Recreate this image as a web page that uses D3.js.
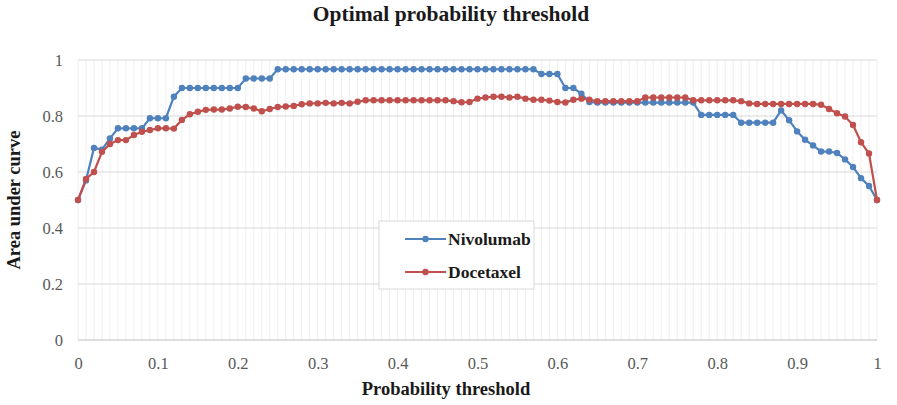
<!DOCTYPE html>
<html>
<head>
<meta charset="utf-8">
<script src="https://cdn.jsdelivr.net/npm/d3@7"></script>
<style>
  body { margin: 0; background: #fff; }
</style>
</head>
<body>
<div class="chart"></div>
<script>
// thresholds 0.00 .. 1.00 in steps of 0.01
let thresholds = d3.range(0, 101).map(function(i) { return i / 100; });

let nivolumab = [
  0.50, 0.57, 0.686, 0.68, 0.72, 0.756, 0.756, 0.756, 0.756, 0.792,
  0.792, 0.792, 0.869, 0.90, 0.90, 0.90, 0.90, 0.90, 0.90, 0.90,
  0.90, 0.934, 0.934, 0.934, 0.934, 0.967, 0.967, 0.967, 0.967, 0.967,
  0.967, 0.967, 0.967, 0.967, 0.967, 0.967, 0.967, 0.967, 0.967, 0.967,
  0.967, 0.967, 0.967, 0.967, 0.967, 0.967, 0.967, 0.967, 0.967, 0.967,
  0.967, 0.967, 0.967, 0.967, 0.967, 0.967, 0.967, 0.967, 0.95, 0.95,
  0.95, 0.90, 0.90, 0.88, 0.85, 0.848, 0.848, 0.848, 0.848, 0.848,
  0.848, 0.848, 0.848, 0.848, 0.848, 0.848, 0.848, 0.848, 0.804, 0.804,
  0.804, 0.804, 0.804, 0.776, 0.776, 0.776, 0.776, 0.776, 0.82, 0.785,
  0.745, 0.715, 0.695, 0.673, 0.673, 0.668, 0.645, 0.618, 0.578, 0.55,
  0.50
];

let docetaxel = [
  0.50, 0.575, 0.60, 0.672, 0.70, 0.714, 0.714, 0.732, 0.744, 0.75,
  0.756, 0.756, 0.755, 0.786, 0.806, 0.815, 0.822, 0.823, 0.823, 0.827,
  0.833, 0.832, 0.827, 0.817, 0.825, 0.832, 0.834, 0.836, 0.842, 0.845,
  0.845, 0.847, 0.845, 0.847, 0.845, 0.851, 0.856, 0.856, 0.856, 0.856,
  0.856, 0.856, 0.856, 0.856, 0.856, 0.856, 0.856, 0.853, 0.849, 0.85,
  0.862, 0.866, 0.869, 0.869, 0.866, 0.869, 0.862, 0.858, 0.858, 0.855,
  0.85, 0.848, 0.858, 0.862, 0.858, 0.853, 0.853, 0.853, 0.853, 0.853,
  0.853, 0.866, 0.866, 0.866, 0.866, 0.866, 0.866, 0.856, 0.856, 0.856,
  0.856, 0.856, 0.856, 0.853, 0.845, 0.843, 0.843, 0.843, 0.843, 0.843,
  0.843, 0.843, 0.843, 0.84, 0.825, 0.81, 0.798, 0.768, 0.706, 0.666,
  0.50
];

let seriesNames = ["Nivolumab", "Docetaxel"];
let seriesColors = ["#4f81bd", "#c0504d"];
let xTicks = [0, 0.1, 0.2, 0.3, 0.4, 0.5, 0.6, 0.7, 0.8, 0.9, 1];
let yTicks = [0, 0.2, 0.4, 0.6, 0.8, 1];

let serif = "'Liberation Serif', 'Times New Roman', serif";
let width = 897;
let height = 405;

let svg = d3.select(".chart")
  .append("svg")
  .attr("width", width)
  .attr("height", height);

let x = d3.scaleLinear().domain([0, 1]).range([78, 877]);
let y = d3.scaleLinear().domain([0, 1]).range([340, 60]);

// minor vertical grid, one line per threshold step
svg.append("g")
  .selectAll("line")
  .data(thresholds)
  .enter().append("line")
  .attr("x1", function(d) { return x(d); })
  .attr("x2", function(d) { return x(d); })
  .attr("y1", y(0))
  .attr("y2", y(1))
  .attr("stroke", "#efefef")
  .attr("stroke-width", 1);

// horizontal grid
svg.append("g")
  .selectAll("line")
  .data(yTicks)
  .enter().append("line")
  .attr("x1", x(0))
  .attr("x2", x(1))
  .attr("y1", function(d) { return y(d); })
  .attr("y2", function(d) { return y(d); })
  .attr("stroke", function(d) { return d === 0 ? "#bfbfbf" : "#d9d9d9"; })
  .attr("stroke-width", 1);

// axes, labels only
let xAxis = svg.append("g")
  .attr("transform", "translate(0," + y(0) + ")")
  .call(d3.axisBottom(x).tickValues(xTicks).tickSize(0).tickPadding(17).tickFormat(d3.format("")));
let yAxis = svg.append("g")
  .attr("transform", "translate(" + x(0) + ",0)")
  .call(d3.axisLeft(y).tickValues(yTicks).tickSize(0).tickPadding(15).tickFormat(d3.format("")));

[xAxis, yAxis].forEach(function(a) {
  a.select(".domain").remove();
  a.attr("font-family", null).attr("font-size", null);
  a.selectAll("text")
    .style("font-family", serif)
    .style("font-size", "16.5px")
    .attr("fill", "#595959");
});

// series
let series = [nivolumab, docetaxel];
let line = d3.line()
  .x(function(d, i) { return x(thresholds[i]); })
  .y(function(d) { return y(d); });

series.forEach(function(values, s) {
  let g = svg.append("g");
  g.append("path")
    .datum(values)
    .attr("d", line)
    .attr("fill", "none")
    .attr("stroke", seriesColors[s])
    .attr("stroke-width", 2.2);
  g.selectAll("circle")
    .data(values)
    .enter().append("circle")
    .attr("cx", function(d, i) { return x(thresholds[i]); })
    .attr("cy", function(d) { return y(d); })
    .attr("r", 3.2)
    .attr("fill", seriesColors[s]);
});

// legend
let legend = svg.append("g");
legend.append("rect")
  .attr("x", 379)
  .attr("y", 221)
  .attr("width", 155)
  .attr("height", 68)
  .attr("fill", "#fff")
  .attr("stroke", "#d9d9d9");

let items = legend.selectAll(".item")
  .data(seriesNames)
  .enter().append("g")
  .attr("class", "item")
  .attr("transform", function(d, i) { return "translate(0," + (239 + i * 33) + ")"; });

items.append("line")
  .attr("x1", 405)
  .attr("x2", 446)
  .attr("stroke", function(d, i) { return seriesColors[i]; })
  .attr("stroke-width", 2.2);
items.append("circle")
  .attr("cx", 425.5)
  .attr("r", 3.2)
  .attr("fill", function(d, i) { return seriesColors[i]; });
items.append("text")
  .attr("x", 448)
  .attr("dy", "0.35em")
  .style("font-family", serif)
  .style("font-size", "17.5px")
  .style("font-weight", "bold")
  .attr("fill", "#1a1a1a")
  .text(String);

// titles
svg.append("text")
  .attr("x", 451)
  .attr("y", 21)
  .attr("text-anchor", "middle")
  .style("font-family", serif)
  .style("font-size", "21.5px")
  .style("font-weight", "bold")
  .attr("fill", "#1a1a1a")
  .text("Optimal probability threshold");

svg.append("text")
  .attr("x", 446)
  .attr("y", 395)
  .attr("text-anchor", "middle")
  .style("font-family", serif)
  .style("font-size", "18.5px")
  .style("font-weight", "bold")
  .attr("fill", "#1a1a1a")
  .text("Probability threshold");

svg.append("text")
  .attr("transform", "translate(20,200) rotate(-90)")
  .attr("text-anchor", "middle")
  .style("font-family", serif)
  .style("font-size", "18.5px")
  .style("font-weight", "bold")
  .attr("fill", "#1a1a1a")
  .text("Area under curve");
</script>
</body>
</html>
